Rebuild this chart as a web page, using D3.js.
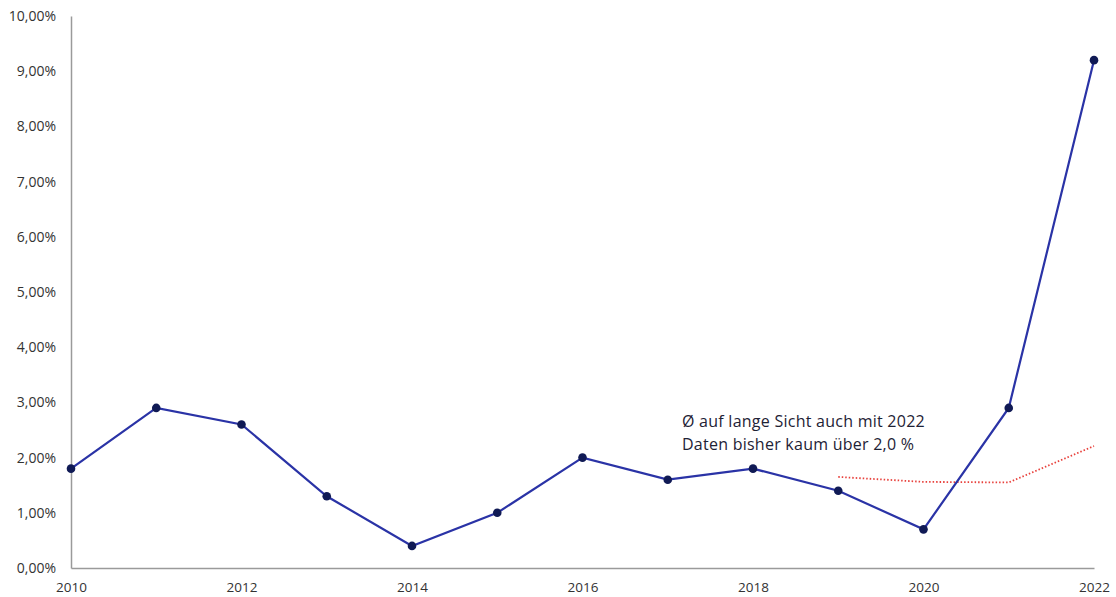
<!DOCTYPE html>
<html><head><meta charset="utf-8">
<script src="https://cdn.jsdelivr.net/npm/d3@7"></script>
<style>body{margin:0;background:#fff;}svg{display:block;font-family:"Open Sans",sans-serif;}</style>
</head><body><svg id="c" width="1116" height="597"></svg>
<script>
const years = [2010,2011,2012,2013,2014,2015,2016,2017,2018,2019,2020,2021,2022];
const values = [1.8,2.9,2.6,1.3,0.4,1.0,2.0,1.6,1.8,1.4,0.7,2.9,9.2];
const avgYears = [2019,2020,2021,2022];
const avgValues = [1.65,1.56,1.55,2.21];
const yTicks = [0,1,2,3,4,5,6,7,8,9,10];
const xTicks = [2010,2012,2014,2016,2018,2020,2022];
const noteLines = ["Ø auf lange Sicht auch mit 2022","Daten bisher kaum über 2,0 %"];

const svg = d3.select("#c");
const x = d3.scaleLinear().domain([2010,2022]).range([71,1094]);
const y = d3.scaleLinear().domain([0,10]).range([568,16]);
const fmt = v => d3.format(".2f")(v).replace(".",",") + "%";

// y axis
const ya = svg.append("g").attr("transform","translate(71,0)")
  .call(d3.axisLeft(y).tickValues(yTicks).tickFormat(fmt).tickSize(0).tickPadding(15));
ya.select(".domain").attr("stroke","#9a9a9a").attr("stroke-width",1.5);
ya.selectAll("text").attr("font-size",14).attr("fill","#333").attr("font-family","Open Sans");

// x axis
const xa = svg.append("g").attr("transform","translate(0,568)")
  .call(d3.axisBottom(x).tickValues(xTicks).tickFormat(d3.format("d")).tickSize(0).tickPadding(14));
xa.select(".domain").attr("stroke","#9a9a9a").attr("stroke-width",1.5);
xa.selectAll("text").attr("font-size",13.5).attr("fill","#333").attr("font-family","Open Sans");

// average dotted line
svg.append("path")
  .datum(avgYears.map((d,i)=>[d,avgValues[i]]))
  .attr("fill","none").attr("stroke","#e8413c").attr("stroke-width",1.8)
  .attr("stroke-dasharray","1.5,2")
  .attr("d", d3.line().x(d=>x(d[0])).y(d=>y(d[1])));

// main line
svg.append("path")
  .datum(years.map((d,i)=>[d,values[i]]))
  .attr("fill","none").attr("stroke","#2a33a6").attr("stroke-width",2.2)
  .attr("d", d3.line().x(d=>x(d[0])).y(d=>y(d[1])));

svg.append("g").selectAll("circle").data(years.map((d,i)=>[d,values[i]]))
  .join("circle").attr("cx",d=>x(d[0])).attr("cy",d=>y(d[1])).attr("r",4.3)
  .attr("fill","#101a55");

// annotation
noteLines.forEach((l,i)=>svg.append("text").attr("x",682).attr("y",427 + i*22.5)
  .attr("font-size",16).attr("letter-spacing",0.25).attr("fill","#1e2235")
  .attr("font-family","Open Sans").text(l));
</script></body></html>
